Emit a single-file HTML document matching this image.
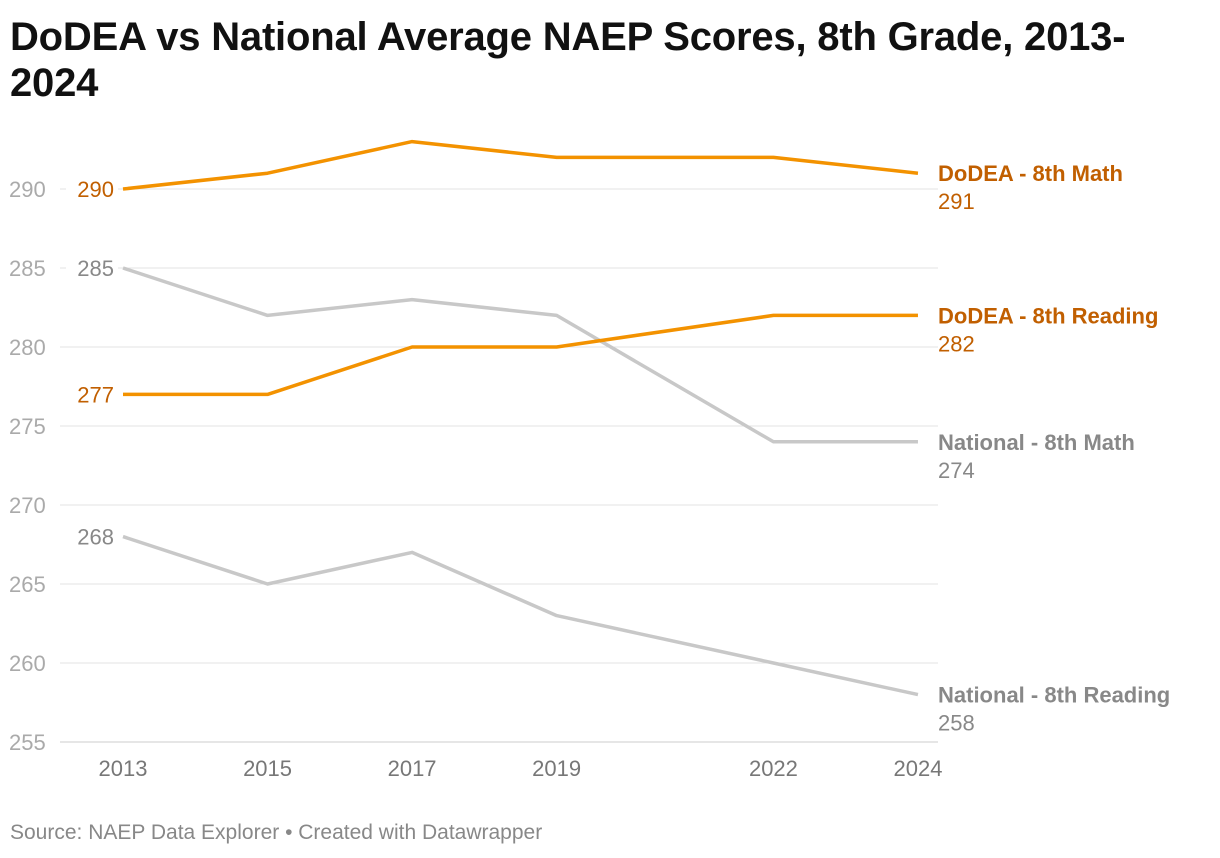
<!DOCTYPE html>
<html><head><meta charset="utf-8">
<style>
body{margin:0;background:#fff;width:1220px;height:858px;overflow:hidden;font-family:"Liberation Sans",sans-serif}
#title{position:absolute;left:10px;top:14px;width:1180px;font-size:40px;font-weight:bold;line-height:46px;color:#111;letter-spacing:-0.2px}
#src{position:absolute;left:10px;top:821px;font-size:21px;color:#888}
svg{position:absolute;left:0;top:0}
</style></head><body>
<div id="title">DoDEA vs National Average NAEP Scores, 8th Grade, 2013-2024</div>
<svg id="chart" width="1220" height="858"></svg>
<div id="src">Source: NAEP Data Explorer • Created with Datawrapper</div>
<script>
const years=[2013,2015,2017,2019,2022,2024];
const yTicks=[255,260,265,270,275,280,285,290];
const dodeaMath=[290,291,293,292,292,291];
const dodeaReading=[277,277,280,280,282,282];
const natMath=[285,282,283,282,274,274];
const natReading=[268,265,267,263,260,258];
const seriesNames=["DoDEA - 8th Math","DoDEA - 8th Reading","National - 8th Math","National - 8th Reading"];
const NS="http://www.w3.org/2000/svg";
const svg=document.getElementById('chart');
const x=y=>123+(y-2013)*72.27;
const yS=v=>742-(v-255)*15.8;
function el(t,a,txt){const e=document.createElementNS(NS,t);for(const k in a)e.setAttribute(k,a[k]);if(txt!==undefined)e.textContent=txt;svg.appendChild(e);return e;}
yTicks.forEach(t=>{
  const l=el('line',{x1:60,x2:938,y1:yS(t),y2:yS(t),stroke:t===255?'#ccc':'#e3e3e3','stroke-width':1});
  
  
  const tx=el('text',{x:9,y:yS(t)+8,'font-size':22,fill:'#aaa'},t);
  
  
});
years.forEach(yr=>{
  const tx=el('text',{x:x(yr),y:776,'font-size':22,fill:'#777','text-anchor':'middle'},yr);
  
  
});
const series=[
 {d:natReading,c:'#c8c8c8',t:'#888',n:seriesNames[3]},
 {d:natMath,c:'#c8c8c8',t:'#888',n:seriesNames[2]},
 {d:dodeaReading,c:'#f39200',t:'#c15f00',n:seriesNames[1]},
 {d:dodeaMath,c:'#f39200',t:'#c15f00',n:seriesNames[0]}];
series.forEach((s,i)=>{
  const pts=s.d.map((v,j)=>x(years[j])+','+yS(v)).join(' ');
  const p=el('polyline',{points:pts,fill:'none',stroke:s.c,'stroke-width':3.5,'stroke-linejoin':'round'});
  
  
  el('rect',{x:66,y:yS(s.d[0])-14,width:52,height:28,fill:'#fff'});
  const sv=el('text',{x:114,y:yS(s.d[0])+8,'font-size':22,fill:s.t,'text-anchor':'end'},s.d[0]);
  
  
  const last=s.d[s.d.length-1];
  const ln=el('text',{x:938,y:yS(last)+8,'font-size':22,'font-weight':'bold',fill:s.t},s.n);
  
  
  const lv=el('text',{x:938,y:yS(last)+36,'font-size':22,fill:s.t},last);
  
  
});
</script>
</body></html>
